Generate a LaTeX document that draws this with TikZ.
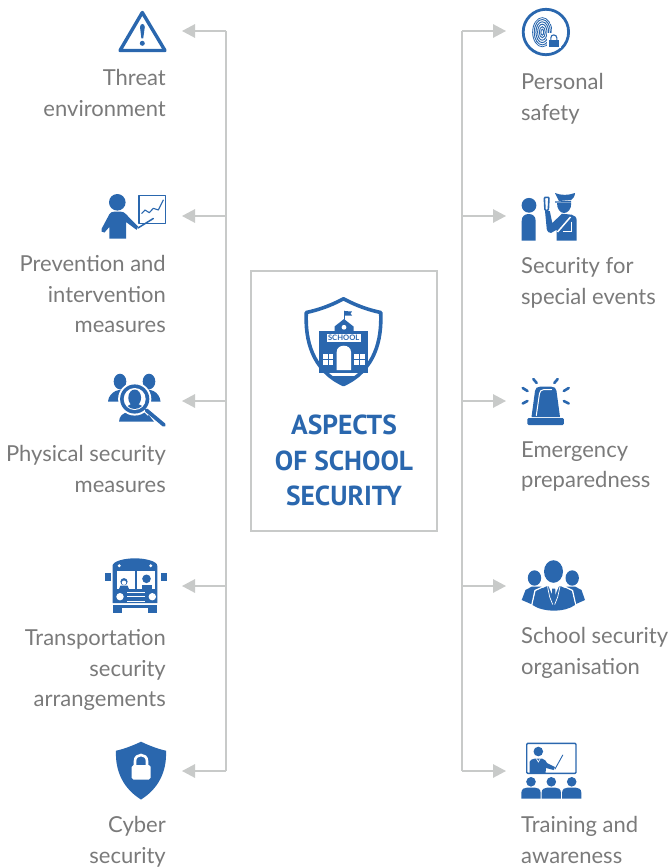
\documentclass[tikz,border=0pt]{standalone}
\usepackage{fontspec}
\setmainfont{Lato}
\newfontfamily\titlefont{PT Sans}
\usetikzlibrary{arrows.meta}
\definecolor{iconblue}{HTML}{2A67AE}
\definecolor{linegray}{HTML}{C8CAC9}
\definecolor{textgray}{HTML}{7A7A7A}
\tikzset{
  link/.style={draw=linegray,line width=1.4pt},
  arrowlink/.style={link,-{Triangle[length=13pt,width=13.5pt,fill=linegray]}},
  leftlabel/.style={anchor=north east,align=right,inner sep=0pt,text=textgray,font=\fontsize{22}{30.5}\selectfont},
  rightlabel/.style={anchor=north west,align=left,inner sep=0pt,text=textgray,font=\fontsize{22}{30.5}\selectfont},
  ic/.style={fill=iconblue,draw=none},
  wh/.style={fill=white,draw=none},
  ln/.style={draw=iconblue,line cap=round,line join=round}
}
\newcommand{\Bust}[4]{\fill[ic] (#1-#3,#4) -- (#1-#3,#2+5) .. controls (#1-#3,#2+1.5) and (#1-#3+3,#2) .. (#1-#3+6,#2) -- (#1+#3-6,#2) .. controls (#1+#3-3,#2) and (#1+#3,#2+1.5) .. (#1+#3,#2+5) -- (#1+#3,#4) -- cycle;}
\begin{document}
\begin{tikzpicture}[x=1pt,y=-1pt]
\useasboundingbox (0,0) rectangle (669,867);
% connectors
\foreach \n/\y in {1/31,2/216,3/401,4/586,5/771}{
  \coordinate (la\n) at (226,\y);
  \coordinate (lt\n) at (182,\y);
  \coordinate (ra\n) at (462,\y);
  \coordinate (rt\n) at (506,\y);
}
\draw[link] (la1) -- (la5);
\draw[link] (ra1) -- (ra5);
\foreach \n in {1,...,5}{
  \draw[arrowlink] (la\n) -- (lt\n);
  \draw[arrowlink] (ra\n) -- (rt\n);
}
% centre box
\node[draw=linegray,line width=1.6pt,minimum width=186pt,minimum height=260pt,inner sep=0pt] (box) at (344,401) {};
\node[inner sep=0pt,align=center,text=iconblue,font=\titlefont\fontsize{27.5}{35.5}\selectfont\bfseries] (title) at (344,460.5) {ASPECTS\\OF SCHOOL\\SECURITY};
% centre shield
\draw[ln,line width=3.6pt,line join=round] (343.5,298.8) .. controls (330,306) and (318,310) .. (306.3,312.5) .. controls (305,340) and (312,370) .. (343.5,384.5) .. controls (375,370) and (382,340) .. (380.7,312.5) .. controls (369,310) and (357,306) .. (343.5,298.8) -- cycle;
\fill[ic] (319.3,331) rectangle (368.3,373);
\fill[ic] (334.5,331) -- (334.5,326.5) -- (344,319) -- (353.5,326.5) -- (353.5,331) -- cycle;
\draw[ln,line width=.8pt] (344,319.5) -- (344,311);
\fill[ic] (344,311) -- (352,311.5) -- (350.5,313.5) -- (352,315.5) -- (344,315.5) -- cycle;
\fill[wh] (344,327.3) circle[radius=2.4pt];
\fill[wh] (326.7,334) rectangle (360.7,342.3);
\node[inner sep=0pt,text=iconblue,font=\fontsize{7.6}{8}\selectfont\bfseries] (schoolsign) at (343.7,338.2) {SCHOOL};
\fill[wh] (336.7,370) -- (336.7,352) .. controls (336.7,348) and (340,345.7) .. (343.8,345.7) .. controls (347.6,345.7) and (351,348) .. (351,352) -- (351,370) -- cycle;
\foreach \wx in {322.7,354.3}{
  \fill[wh] (\wx,354.3) rectangle (\wx+10.6,365);
  \draw[iconblue,line width=.7pt] (\wx+5.3,354.3) -- (\wx+5.3,365) (\wx,359.6) -- (\wx+10.6,359.6);
}
\fill[ic] (328,376) -- (360,376) -- (352,381) -- (344,384) -- (336,381) -- cycle;
% Threat
\draw[ln,line width=3.4pt] (142.3,12.5) -- (120,50.5) -- (165,50.5) -- cycle;
\fill[ic] (140,27) .. controls (140,23) and (144.8,23) .. (144.8,27) -- (143.2,38.5) -- (141.4,38.5) -- cycle;
\fill[ic] (142.3,43.3) circle[radius=2.5pt];
% Presenter
\fill[ic] (117.3,202.3) circle[radius=8.3pt];
\fill[ic] (109.3,238.5) -- (109.3,227) -- (104.5,232.5) .. controls (102,233) and (100.5,231) .. (101.5,229) -- (109.5,214) .. controls (110.5,212.5) and (112,211.7) .. (114,211.7) -- (121,211.7) .. controls (123,211.7) and (124.5,212.5) .. (125.8,214) -- (138,226.5) -- (136.5,229.8) -- (126,222) -- (126,238.5) -- cycle;
\draw[ln,line width=1.3pt] (139,195.7) rectangle (165.7,223.7);
\draw[ln,line width=1.1pt] (141.7,213.5) -- (145,210) -- (149.3,212.7) -- (153.3,208.3) -- (158.3,210) -- (163.3,200);
\draw[ln,line width=1.5pt] (138,228) -- (153.3,218.5);
% Physical security
\fill[ic] (120,381.5) ellipse[x radius=6.3pt,y radius=7.8pt];
\fill[ic] (149,381.5) ellipse[x radius=6.3pt,y radius=7.8pt];
\fill[ic] (108,401.5) .. controls (108.5,396) and (112,393) .. (115.5,391) -- (126,388) -- (144,388) -- (153.5,391) .. controls (157,393) and (160,396) .. (160.5,401.5) -- cycle;
\fill[ic] (119,421.7) .. controls (119.5,416) and (122,413.5) .. (129,411.5) -- (146,411.5) -- (154,421.7) -- cycle;
\fill[wh] (134.7,399) circle[radius=16.6pt];
\fill[ic] (134.7,399) circle[radius=14.6pt];
\fill[wh] (134.7,399) circle[radius=11pt];
\begin{scope}
  \clip (134.7,399) circle[radius=10pt];
  \fill[ic] (134.7,397.8) ellipse[x radius=6.4pt,y radius=8.3pt];
  \fill[ic] (125.5,410) .. controls (126.5,406) and (129,405) .. (131,404) -- (138,404) .. controls (141,405) and (143.5,406) .. (144.5,410) -- cycle;
\end{scope}
\draw[white,line width=6pt] (145.8,409.5) -- (150,413.5);
\draw[ln,line width=3.8pt] (146.5,410.3) -- (164,425);
% Bus
\fill[ic] (112.5,603) -- (112.5,566) .. controls (112.5,561) and (125,558.3) .. (134.8,558.3) .. controls (145,558.3) and (157.3,561) .. (157.3,566) -- (157.3,603) -- cycle;
\fill[ic] (105,573.3) rectangle (111,581);
\fill[ic] (161,573.3) rectangle (166.7,581);
\fill[wh] (119.3,565.7) circle[radius=1.6pt];
\fill[wh] (150.7,565.7) circle[radius=1.6pt];
\fill[wh] (116.7,570.7) rectangle (135,589);
\fill[wh] (136.7,570.7) rectangle (155,589);
\fill[ic] (124,581.7) circle[radius=3.6pt];
\fill[wh] (124,582.7) circle[radius=2.2pt];
\fill[ic] (119,589) -- (120.5,585.5) -- (127.5,585.5) -- (129,589) -- cycle;
\fill[ic] (146.5,578.8) circle[radius=4.3pt];
\fill[ic] (141.5,589) -- (141.5,584.5) -- (151.7,584.5) -- (151.7,589) -- cycle;
\fill[wh] (120,596.7) circle[radius=3.7pt];
\fill[wh] (152.3,596.7) circle[radius=3.7pt];
\fill[wh] (126.7,591.8) rectangle (145,593.2);
\fill[wh] (126.7,596) rectangle (145,597.4);
\fill[wh] (126.7,600.6) rectangle (145,602);
\fill[ic] (112.5,605) rectangle (157.3,608.3);
\fill[ic] (113.3,608) rectangle (121.7,613);
\fill[ic] (148.3,608) rectangle (156.7,613);
% Cyber shield
\fill[ic] (141,741.7) .. controls (133,745.5) and (124,749) .. (116,750.7) .. controls (115,772) and (124,789) .. (141,799.5) .. controls (158,789) and (167,772) .. (166,750.7) .. controls (158,749) and (149,745.5) .. (141,741.7) -- cycle;
\fill[wh,rounded corners=1.8pt] (131.7,765) rectangle (150.7,779.5);
\draw[white,line width=2.6pt] (135,767) -- (135,761) .. controls (135,753) and (147,753) .. (147,761) -- (147,767);
% Fingerprint
\draw[ln,line width=2.8pt] (545.9,32) circle[radius=22.7pt];
\begin{scope}
  \clip (542.3,32.2) ellipse[x radius=10.1pt,y radius=15pt];
  \foreach \rx/\ry in {1.4/3,3/5.5,4.7/8,6.4/10.4,8.1/12.7,9.7/14.7}{
    \draw[iconblue,line width=.95pt] (542.3,32.2) ellipse[x radius=\rx pt,y radius=\ry pt];
  }
\end{scope}
\fill[wh] (546.5,33.5) rectangle (561,48.5);
\draw[iconblue,line width=1.1pt] (550.8,40) -- (550.8,37.8) .. controls (550.8,34) and (556.8,34) .. (556.8,37.8) -- (556.8,40);
\fill[ic] (548.5,40) rectangle (559,46.8);
% Guard
\fill[ic] (529,205.3) circle[radius=7.4pt];
\fill[ic] (521.7,240.7) -- (521.7,221) .. controls (521.7,216) and (525,214) .. (528.7,214) .. controls (532.5,214) and (535.7,216) .. (535.7,221) -- (535.7,240.7) -- cycle;
\draw[ln,line width=1.6pt,rounded corners=1pt] (544.3,197.3) -- (549,197.3) -- (548.3,210.5) -- (545,210.5) -- cycle;
\fill[ic] (555,193) .. controls (561,195.5) and (568,195.5) .. (575,193) .. controls (575,196.5) and (572.5,199) .. (571,200) -- (559,201) .. controls (558,198.5) and (556,196) .. (555,193) -- cycle;
\fill[ic] (555,201.5) -- (571,200.8) -- (571,202.6) -- (555,202.6) -- cycle;
\fill[ic] (557,203) -- (571.2,203) .. controls (571.5,209) and (568,213) .. (564,213) .. controls (560,213) and (557,209) .. (557,203) -- cycle;
\fill[ic] (545,211) -- (549.8,211) -- (552.3,223) -- (562,213.7) -- (571.7,214.7) .. controls (574.5,215.5) and (576.7,217) .. (576.7,220.5) -- (576.7,240.7) -- (556.7,240.7) -- (556.7,229.7) -- (551,233) .. controls (548.5,233) and (547.3,231.5) .. (546.8,229.5) -- cycle;
\draw[white,line width=1.5pt] (557.5,232) -- (570.5,217);
\draw[white,line width=1.2pt] (571.2,221.5) -- (571.2,231.4) -- (563,231.4);
% Siren
\fill[ic,rounded corners=1.2pt] (527.3,418) rectangle (563.8,425);
\fill[ic] (531.5,417) -- (535,391) .. controls (535.5,388) and (537,386.7) .. (540,386.7) -- (551.5,386.7) .. controls (554.5,386.7) and (556,388) .. (556.5,391) -- (560,417) -- cycle;
\draw[white,line width=1pt,line cap=round] (536.3,415.5) -- (539.5,393.5) .. controls (540,391) and (541,390) .. (544,389.5) -- (551.5,389.5);
\draw[ln,line width=2.6pt]
  (533.3,379) -- (536.7,383)
  (557.7,379) -- (554.3,383)
  (522.7,388) -- (527.5,391)
  (568.7,388) -- (563.8,391)
  (522.7,403.5) -- (527.5,401)
  (568.7,403.5) -- (563.8,401);
% Organisation
\fill[ic] (534.5,578) ellipse[x radius=6.7pt,y radius=7.7pt];
\fill[ic] (572.2,578) ellipse[x radius=6.7pt,y radius=7.7pt];
\fill[ic] (521.7,600) -- (525.5,590) -- (532,586.5) -- (541,586.5) -- (546,590) -- (546,604) -- (531,604) -- cycle;
\fill[ic] (585,600) -- (581.5,590) -- (575,586.5) -- (567,586.5) -- (562,590) -- (562,604) -- (576,604) -- cycle;
\draw[white,line width=1.3pt] (530.5,611) -- (535,590.5) -- (546,585.5) -- (562,585.5) -- (572.5,590.5) -- (577,611);
\fill[ic] (553.5,571.5) ellipse[x radius=9.5pt,y radius=11.3pt];
\fill[ic] (532.5,605) -- (536.2,591.3) -- (546.5,586.3) -- (561,586.3) -- (571.5,591.3) -- (575,605) .. controls (565,612.5) and (543,612.5) .. (532.5,605) -- cycle;
\fill[wh] (548.5,586) -- (553.7,598) -- (559,586) -- cycle;
\fill[ic] (552.2,588.5) -- (555.2,588.5) -- (555.7,599) -- (553.7,604) -- (551.7,599) -- cycle;
\draw[white,line width=.7pt] (547.5,586.5) -- (549.7,597) -- (552.7,604.5) (560,586.5) -- (557.7,597) -- (554.7,604.5);
% Training
\draw[ln,line width=1.4pt,rounded corners=1pt] (526.7,743.3) rectangle (576,773.3);
\fill[ic] (538.3,751.5) circle[radius=4.8pt];
\fill[ic] (529.5,773.5) -- (529.5,762) .. controls (530,760) and (532,759) .. (535,758.5) -- (542,758.5) .. controls (545,759.5) and (546,761) .. (547,763) -- (555,767) -- (553.5,770) -- (546,768) -- (545.5,773.5) -- cycle;
\draw[white,line width=.6pt] (536.3,758.5) -- (538.3,762) -- (540.3,758.5);
\draw[ln,line width=.9pt] (555,769) -- (562.8,755);
\foreach \ax in {531,551.3,571.7}{
  \fill[ic] (\ax,781.8) circle[radius=4.8pt];
  \Bust{\ax}{787.5}{9.6}{798.5}
}
% Labels
\node[leftlabel] (lab1) at (166,69.5) {Threat\\environment};
\node[leftlabel] (lab2) at (166,255.5) {Prevention and\\intervention\\measures};
\node[leftlabel] (lab3) at (166,445.5) {Physical security\\measures};
\node[leftlabel] (lab4) at (166,629.5) {Transportation\\security\\arrangements};
\node[leftlabel] (lab5) at (166,816.5) {Cyber\\security};
\node[rightlabel] (rab1) at (521,73.5) {Personal\\safety};
\node[rightlabel] (rab2) at (521,257.5) {Security for\\special events};
\node[rightlabel] (rab3) at (521,441.5) {Emergency\\preparedness};
\node[rightlabel] (rab4) at (521,627.5) {School security\\organisation};
\node[rightlabel] (rab5) at (521,816.5) {Training and\\awareness};
\end{tikzpicture}
\end{document}
